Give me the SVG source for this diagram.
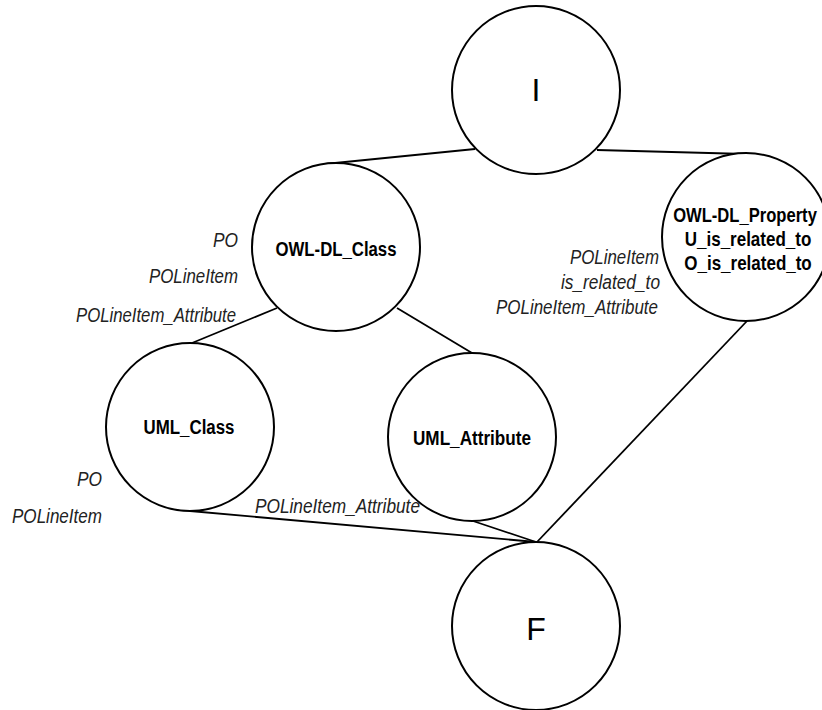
<svg xmlns="http://www.w3.org/2000/svg" width="822" height="710" viewBox="0 0 822 710">
  <style>
    .node circle { fill: #ffffff; stroke: #000000; stroke-width: 2; }
    .edge { stroke: #000000; stroke-width: 1.8; fill: none; }
    .big { font-family: "Liberation Sans", Arial, sans-serif; font-size: 32px; fill: #000; text-anchor: middle; }
    .name { font-family: "Liberation Sans", Arial, sans-serif; font-size: 20px; font-weight: bold; fill: #000; text-anchor: middle; }
    .lbl { font-family: "Liberation Sans", Arial, sans-serif; font-size: 20px; font-style: italic; fill: #222; }
    .end { text-anchor: end; }
  </style>
  <rect width="822" height="710" fill="#ffffff"/>

  <!-- connectors -->
  <g id="connectors">
    <line class="edge" x1="475" y1="149" x2="325" y2="164"/>
    <line class="edge" x1="597" y1="150" x2="746" y2="154"/>
    <line class="edge" x1="277" y1="308" x2="192" y2="343"/>
    <line class="edge" x1="397" y1="308" x2="472" y2="353"/>
    <line class="edge" x1="190" y1="511" x2="536" y2="542"/>
    <line class="edge" x1="473" y1="521" x2="536" y2="542"/>
    <line class="edge" x1="747" y1="321" x2="537" y2="542"/>
  </g>

  <!-- nodes -->
  <g id="node-I" class="node">
    <circle cx="536" cy="90" r="84"/>
    <text class="big" x="536" y="101">I</text>
  </g>

  <g id="node-OWL-DL_Class" class="node">
    <circle cx="336" cy="247" r="84"/>
    <text class="name" x="336" y="256" textLength="121" lengthAdjust="spacingAndGlyphs">OWL-DL_Class</text>
  </g>

  <g id="node-OWL-DL_Property" class="node">
    <circle cx="746" cy="237" r="84"/>
    <!-- condensed lettering: horizontal scale keeps the box inside the frame -->
    <text class="name" transform="translate(745,222) scale(0.83,1)">OWL-DL_Property</text>
    <text class="name" transform="translate(748,246) scale(0.85,1)">U_is_related_to</text>
    <text class="name" transform="translate(748,270) scale(0.85,1)">O_is_related_to</text>
  </g>

  <g id="node-UML_Class" class="node">
    <circle cx="190" cy="427" r="84"/>
    <text class="name" x="189" y="434" textLength="91" lengthAdjust="spacingAndGlyphs">UML_Class</text>
  </g>

  <g id="node-UML_Attribute" class="node">
    <circle cx="472" cy="437" r="84"/>
    <text class="name" x="472" y="445" textLength="118" lengthAdjust="spacingAndGlyphs">UML_Attribute</text>
  </g>

  <g id="node-F" class="node">
    <circle cx="536" cy="626" r="84"/>
    <text class="big" x="536" y="640">F</text>
  </g>

  <!-- annotations -->
  <g id="labels">
    <text class="lbl end" x="238" y="247" textLength="25" lengthAdjust="spacingAndGlyphs">PO</text>
    <text class="lbl end" x="238" y="283" textLength="89" lengthAdjust="spacingAndGlyphs">POLineItem</text>
    <text class="lbl end" x="236" y="322" textLength="160" lengthAdjust="spacingAndGlyphs">POLineItem_Attribute</text>

    <text class="lbl end" x="659" y="264" textLength="89" lengthAdjust="spacingAndGlyphs">POLineItem</text>
    <text class="lbl end" x="660" y="289" textLength="99" lengthAdjust="spacingAndGlyphs">is_related_to</text>
    <text class="lbl end" x="658" y="314" textLength="162" lengthAdjust="spacingAndGlyphs">POLineItem_Attribute</text>

    <text class="lbl end" x="102" y="486" textLength="25" lengthAdjust="spacingAndGlyphs">PO</text>
    <text class="lbl end" x="102" y="523" textLength="90" lengthAdjust="spacingAndGlyphs">POLineItem</text>

    <text class="lbl" x="255" y="513" textLength="165" lengthAdjust="spacingAndGlyphs">POLineItem_Attribute</text>
  </g>
</svg>
